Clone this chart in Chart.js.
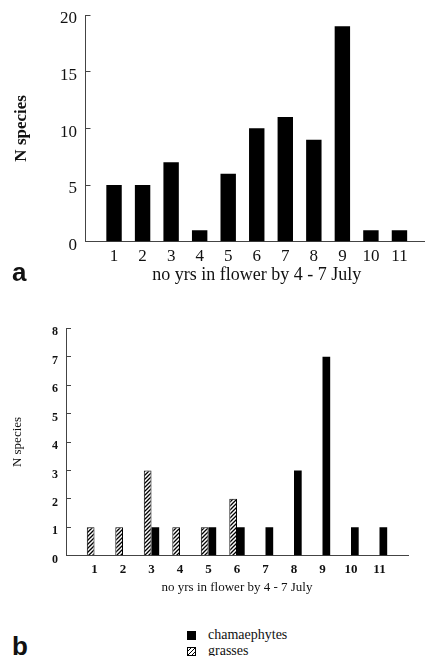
<!DOCTYPE html>
<html>
<head>
<meta charset="utf-8">
<script src="https://cdn.jsdelivr.net/npm/chart.js@4.4.1/dist/chart.umd.min.js"></script>
<style>
  html, body { margin: 0; padding: 0; background: #fff; overflow: hidden; }
  #pagina { position: relative; width: 425px; height: 656px; overflow: hidden;
            font-family: "Liberation Serif", "Times New Roman", serif; color: #111; }
  #cajaA { position: absolute; left: 0; top: 0; width: 425px; height: 300px; overflow: hidden; }
  #cajaB { position: absolute; left: 0; top: 300px; width: 425px; height: 310px; }
  .panel { position: absolute; font-family: "Liberation Sans", Arial, sans-serif;
           font-weight: bold; line-height: 1; }
  .leyenda { position: absolute; left: 187px; font-size: 14px; line-height: 16px; white-space: nowrap; }
  .muestra { display: inline-block; width: 9px; height: 9px; margin-right: 12px; vertical-align: -1px;
             box-sizing: border-box; }
  .negro { background: #000; }
  .rayado { border: 1px solid #000;
            background: repeating-linear-gradient(135deg, #fff 0 1.5px, #000 1.5px 2.8px); }
</style>
</head>
<body>
<div id="pagina">
  <div id="cajaA"><canvas id="graficoA" width="440" height="300"></canvas></div>
  <div id="cajaB"><canvas id="graficoB" width="425" height="310"></canvas></div>
  <div class="panel" style="left:12px; top:259px; font-size:26px;">a</div>
  <div class="panel" style="left:12px; top:633px; font-size:26px;">b</div>
  <div class="leyenda" style="top:627px;"><span class="muestra negro"></span>chamaephytes</div>
  <div class="leyenda" style="top:643px;"><span class="muestra rayado"></span>grasses</div>
</div>
<script>
// Datos
const categorias = [1, 2, 3, 4, 5, 6, 7, 8, 9, 10, 11];
const especiesTotal = [5, 5, 7, 1, 6, 10, 11, 9, 19, 1, 1];
const gramineas = [1, 1, 3, 1, 1, 2, 0, 0, 0, 0, 0];
const camefitos = [0, 0, 1, 0, 1, 1, 1, 3, 7, 1, 1];
const ticksA = [0, 5, 10, 15, 20];
const ticksB = [0, 1, 2, 3, 4, 5, 6, 7, 8];
const tituloX = 'no yrs in flower by 4 - 7 July';
const tituloY = 'N species';

const serif = '"Liberation Serif", "Times New Roman", serif';

// Patrón de rayas diagonales para las gramíneas
function crearRayado() {
  const c = document.createElement('canvas');
  c.width = 4; c.height = 4;
  const g = c.getContext('2d');
  g.fillStyle = '#fff';
  g.fillRect(0, 0, 4, 4);
  g.strokeStyle = '#000';
  g.lineWidth = 1.3;
  g.beginPath();
  g.moveTo(0, 4); g.lineTo(4, 0);
  g.moveTo(-1, 1); g.lineTo(1, -1);
  g.moveTo(3, 5); g.lineTo(5, 3);
  g.stroke();
  return g.createPattern(c, 'repeat');
}

function opcionesBase(cfg) {
  return {
    responsive: false,
    animation: false,
    layout: { padding: { top: cfg.arriba, right: cfg.derecha, left: 0, bottom: 0 } },
    plugins: { legend: { display: false }, tooltip: { enabled: false } },
    scales: {
      x: {
        type: 'linear',
        offset: false,
        min: 0,
        max: 12,
        afterBuildTicks: s => { s.ticks = categorias.map(v => ({ value: v })); },
        afterFit: s => { s.height = cfg.altoX; s.paddingLeft = 0; s.paddingRight = 0; },
        grid: { display: false, drawTicks: false },
        border: { color: '#444', width: 1 },
        ticks: { color: '#111', font: cfg.fuenteTickX, padding: cfg.padTickX, maxRotation: 0, autoSkip: false },
        title: {
          display: true, text: tituloX, color: '#111', font: cfg.fuenteTituloX,
          padding: { top: 0, bottom: cfg.padTituloX }
        }
      },
      y: {
        min: 0,
        max: cfg.ticksY[cfg.ticksY.length - 1],
        afterBuildTicks: s => { s.ticks = cfg.ticksY.map(v => ({ value: v })); },
        // el ancho fijo coloca el eje; sin relleno extra arriba/abajo
        afterFit: s => { s.width = cfg.anchoY; s.paddingTop = 0; s.paddingBottom = 0; },
        grid: { drawOnChartArea: false, drawTicks: true, tickLength: -5, color: '#444' },
        border: { color: '#444', width: 1 },
        ticks: { color: '#111', font: cfg.fuenteTickY, padding: cfg.padTickY, labelOffset: 4 },
        title: {
          display: true, text: tituloY, color: '#111', font: cfg.fuenteTituloY,
          padding: { top: cfg.padTituloY, bottom: 0 }
        }
      }
    }
  };
}

// Gráfico a: total de especies
new Chart(document.getElementById('graficoA'), {
  type: 'bar',
  data: {
    labels: categorias,
    datasets: [{
      label: 'N species',
      data: especiesTotal,
      backgroundColor: '#000',
      borderWidth: 0,
      categoryPercentage: 0.54,
      barPercentage: 1
    }]
  },
  options: opcionesBase({
    arriba: 15, derecha: 12, altoX: 58.3, anchoY: 85.5,
    ticksY: ticksA,
    fuenteTickX: { family: serif, size: 17 },
    fuenteTickY: { family: serif, size: 17 },
    fuenteTituloX: { family: serif, size: 18 },
    fuenteTituloY: { family: serif, size: 17, weight: 'bold' },
    padTickX: 5, padTickY: 13.5, padTituloX: 14.2, padTituloY: 11
  })
});

// Gráfico b: gramíneas y caméfitos
new Chart(document.getElementById('graficoB'), {
  type: 'bar',
  data: {
    labels: categorias,
    datasets: [{
      label: 'grasses',
      data: gramineas,
      backgroundColor: crearRayado(),
      borderColor: '#000',
      borderWidth: 1,
      categoryPercentage: 0.54,
      barPercentage: 1
    }, {
      label: 'chamaephytes',
      data: camefitos,
      backgroundColor: '#000',
      borderWidth: 0,
      categoryPercentage: 0.54,
      barPercentage: 1
    }]
  },
  options: opcionesBase({
    arriba: 28.3, derecha: 17, altoX: 54.3, anchoY: 66,
    ticksY: ticksB,
    fuenteTickX: { family: serif, size: 13, weight: 'bold' },
    fuenteTickY: { family: serif, size: 12, weight: 'bold' },
    fuenteTituloX: { family: serif, size: 13 },
    fuenteTituloY: { family: serif, size: 13 },
    padTickX: 6, padTickY: 13, padTituloX: 14.2, padTituloY: 10.2
  })
});
</script>
</body>
</html>
